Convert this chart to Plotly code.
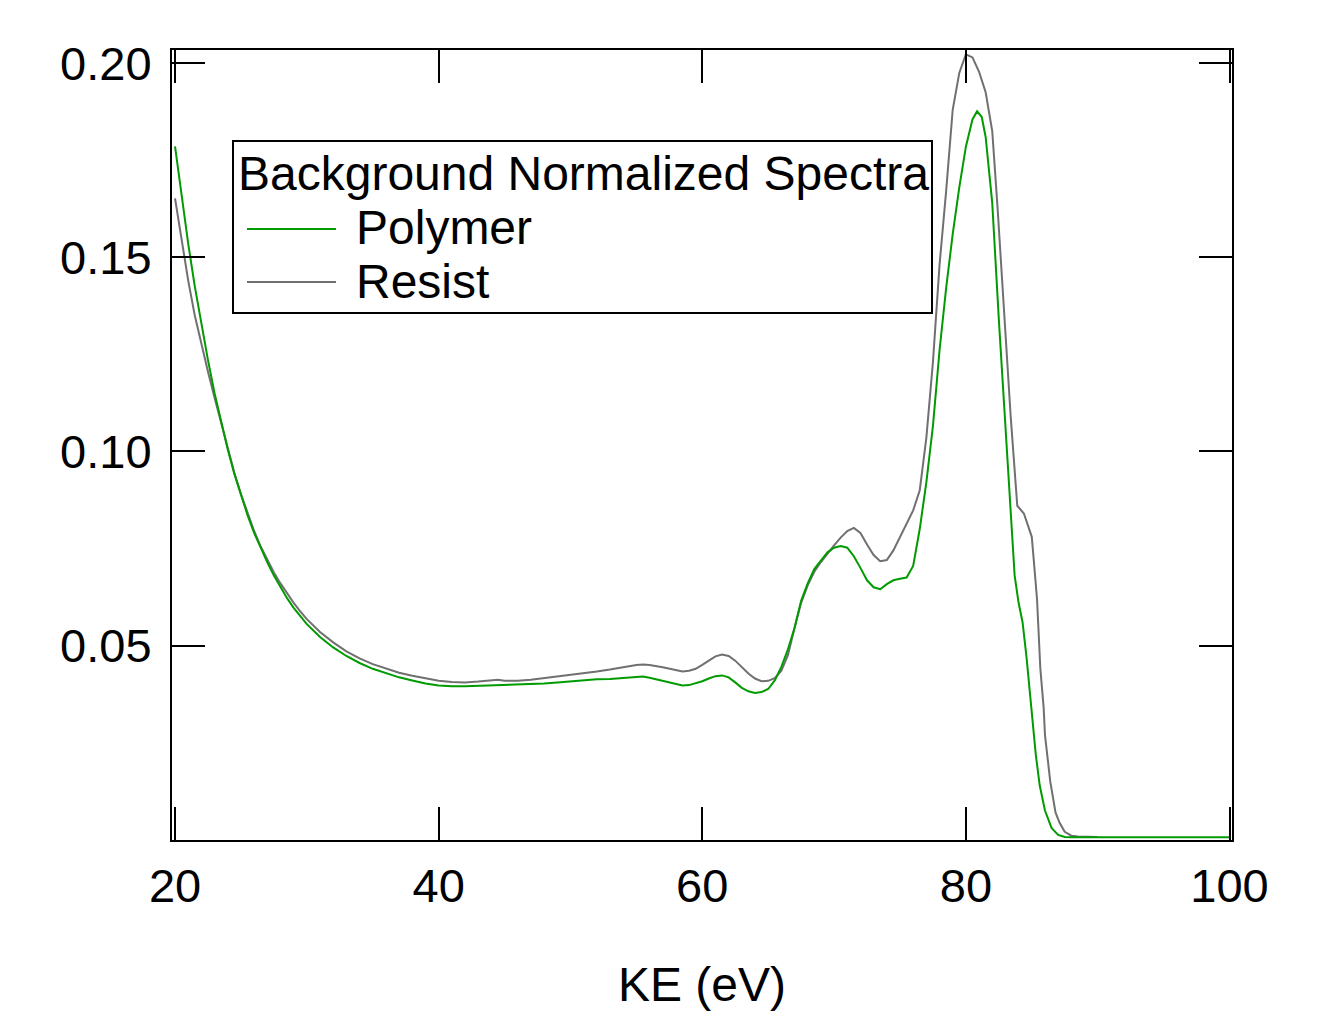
import plotly.graph_objects as go

# ---------------- data ----------------
ke_polymer = [20.0, 20.5, 21.0, 21.5, 22.0, 22.5, 23.0, 23.5, 24.0, 24.5, 25.0, 25.5, 26.0, 26.5,
              27.0, 27.5, 28.0, 28.5, 29.0, 29.5, 30.0, 31.0, 32.0, 33.0, 34.0, 35.0, 36.0, 37.0,
              38.0, 39.0, 40.0, 41.0, 42.0, 43.0, 44.0, 45.0, 46.0, 47.0, 48.0, 49.0, 50.0, 51.0,
              52.0, 53.0, 54.0, 55.0, 55.5, 56.0, 57.0, 58.0, 58.5, 59.0, 59.5, 60.0, 60.5, 61.0,
              61.5, 62.0, 62.5, 63.0, 63.5, 64.0, 64.5, 65.0, 65.5, 66.0, 66.5, 67.0, 67.5, 68.0,
              68.5, 69.0, 69.5, 70.0, 70.5, 71.0, 71.5, 72.0, 72.5, 73.0, 73.5, 74.0, 74.5, 75.0,
              75.5, 76.0, 76.5, 77.0, 77.5, 78.0, 78.5, 79.0, 79.5, 80.0, 80.5, 80.85, 81.2, 81.5,
              82.0, 82.5, 83.0, 83.4, 83.7, 84.0, 84.3, 84.6, 85.0, 85.3, 85.6, 86.0, 86.5, 87.0,
              87.5, 88.0, 90.0, 92.0, 94.0, 96.0, 98.0, 100.0]
polymer = [0.1786, 0.1660, 0.1535, 0.1425, 0.1325, 0.1235, 0.1150, 0.1075, 0.1005, 0.0942, 0.0887,
           0.0836, 0.0790, 0.0750, 0.0714, 0.0680, 0.0650, 0.0622, 0.0597, 0.0575, 0.0555, 0.0522,
           0.0495, 0.0473, 0.0455, 0.0440, 0.0428, 0.0418, 0.0410, 0.0402, 0.0397, 0.0395, 0.0395,
           0.0396, 0.0397, 0.0399, 0.0400, 0.0401, 0.0402, 0.0405, 0.0408, 0.0411, 0.0413, 0.0414,
           0.0416, 0.0419, 0.0420, 0.0417, 0.0409, 0.0400, 0.0397, 0.0398, 0.0402, 0.0408, 0.0415,
           0.0421, 0.0423, 0.0418, 0.0405, 0.0391, 0.0382, 0.0378, 0.0380, 0.0388, 0.0410, 0.0445,
           0.0490, 0.0545, 0.0615, 0.0660, 0.0697, 0.0720, 0.0740, 0.0752, 0.0756, 0.0752, 0.0730,
           0.0700, 0.0668, 0.0650, 0.0645, 0.0658, 0.0668, 0.0672, 0.0675, 0.0705, 0.0800, 0.0920,
           0.1065, 0.1260, 0.1420, 0.1560, 0.1680, 0.1785, 0.1855, 0.1876, 0.1862, 0.1810, 0.1640,
           0.1340, 0.1070, 0.0850, 0.0680, 0.0610, 0.0560, 0.0470, 0.0320, 0.0220, 0.0140, 0.0075,
           0.0030, 0.0012, 0.0007, 0.0006, 0.0006, 0.0006, 0.0006, 0.0006, 0.0006, 0.0006]

ke_resist = [20.0, 20.5, 21.0, 21.5, 22.0, 22.5, 23.0, 23.5, 24.0, 24.5, 25.0, 25.5, 26.0, 26.5,
             27.0, 27.5, 28.0, 28.5, 29.0, 29.5, 30.0, 31.0, 32.0, 33.0, 34.0, 35.0, 36.0, 37.0,
             38.0, 39.0, 40.0, 41.0, 42.0, 43.0, 44.0, 44.5, 45.0, 46.0, 47.0, 48.0, 49.0, 50.0,
             51.0, 52.0, 53.0, 54.0, 55.0, 55.5, 56.0, 57.0, 58.0, 58.5, 59.0, 59.5, 60.0, 60.5,
             61.0, 61.5, 62.0, 62.5, 63.0, 63.5, 64.0, 64.5, 65.0, 65.5, 66.0, 66.5, 67.0, 67.5,
             68.0, 68.5, 69.0, 69.5, 70.0, 70.5, 71.0, 71.5, 72.0, 72.5, 73.0, 73.5, 74.0, 74.5,
             75.0, 75.5, 76.0, 76.5, 77.0, 77.5, 78.0, 78.5, 79.0, 79.5, 80.0, 80.5, 81.0, 81.5,
             82.0, 82.4, 82.9, 83.4, 83.9, 84.4, 84.7, 85.0, 85.2, 85.4, 85.65, 85.9, 86.0, 86.4,
             86.8, 87.1, 87.5, 88.0, 88.5, 90.0]
resist = [0.1652, 0.1540, 0.1440, 0.1350, 0.1275, 0.1205, 0.1138, 0.1072, 0.1007, 0.0945, 0.0890,
          0.0840, 0.0795, 0.0755, 0.0720, 0.0688, 0.0660, 0.0634, 0.0610, 0.0588, 0.0568, 0.0535,
          0.0508, 0.0485, 0.0467, 0.0452, 0.0440, 0.0430, 0.0422, 0.0415, 0.0409, 0.0406, 0.0405,
          0.0407, 0.0410, 0.0412, 0.0409, 0.0409, 0.0412, 0.0416, 0.0420, 0.0424, 0.0428, 0.0433,
          0.0438, 0.0444, 0.0450, 0.0451, 0.0450, 0.0444, 0.0436, 0.0433, 0.0435, 0.0440, 0.0450,
          0.0462, 0.0472, 0.0477, 0.0473, 0.0461, 0.0445, 0.0428, 0.0415, 0.0408, 0.0409, 0.0416,
          0.0435, 0.0475, 0.0545, 0.0610, 0.0655, 0.0690, 0.0715, 0.0738, 0.0758, 0.0778, 0.0795,
          0.0803, 0.0790, 0.0760, 0.0733, 0.0717, 0.0720, 0.0745, 0.0780, 0.0815, 0.0848, 0.0900,
          0.1035, 0.1230, 0.1480, 0.1670, 0.1880, 0.1975, 0.2023, 0.2015, 0.1978, 0.1925, 0.1825,
          0.1630, 0.1360, 0.1090, 0.0860, 0.0840, 0.0810, 0.0780, 0.0700, 0.0618, 0.0440, 0.0340,
          0.0270, 0.0150, 0.0070, 0.0044, 0.0020, 0.0010, 0.0008, 0.0007]

x_ticks = [20, 40, 60, 80, 100]
y_ticks = [0.05, 0.10, 0.15, 0.20]
y_tick_text = ["0.05", "0.10", "0.15", "0.20"]

legend_title = "Background Normalized Spectra"
series_names = ["Polymer", "Resist"]
series_colors = ["#009B00", "#707070"]

FONT = "Liberation Sans, Arial, sans-serif"
FS_TICK = 47
FS_TEXT = 48

# ---------------- figure ----------------
fig = go.Figure()
fig.add_trace(go.Scatter(x=ke_resist, y=resist, mode="lines", name=series_names[1],
                         line=dict(color=series_colors[1], width=2), showlegend=False))
fig.add_trace(go.Scatter(x=ke_polymer, y=polymer, mode="lines", name=series_names[0],
                         line=dict(color=series_colors[0], width=2), showlegend=False))

# plot-area geometry in pixels (for placing the hand-drawn legend)
W, H = 1325, 1011
L, R, T, B = 172, 93, 50, 171
pw, ph = W - L - R, H - T - B


def px_x(p):
    return (p - L) / pw


def px_y(p):
    return (H - B - p) / ph


# legend box
fig.add_shape(type="rect", xref="paper", yref="paper",
              x0=px_x(233), x1=px_x(932), y0=px_y(313), y1=px_y(141),
              line=dict(color="black", width=2), fillcolor="white", layer="above")
fig.add_annotation(xref="paper", yref="paper", x=px_x(237), y=px_y(174),
                   text=legend_title, showarrow=False, xanchor="left", yanchor="middle",
                   font=dict(family=FONT, size=FS_TEXT, color="black"), borderpad=0)
for name, col, yc in zip(series_names, series_colors, [229, 282]):
    fig.add_shape(type="line", xref="paper", yref="paper",
                  x0=px_x(247), x1=px_x(336), y0=px_y(yc), y1=px_y(yc),
                  line=dict(color=col, width=2), layer="above")
    fig.add_annotation(xref="paper", yref="paper", x=px_x(355), y=px_y(yc - 1),
                       text=name, showarrow=False, xanchor="left", yanchor="middle",
                       font=dict(family=FONT, size=FS_TEXT, color="black"), borderpad=0)

axis_common = dict(showline=True, linecolor="black", linewidth=2, mirror="ticks",
                   ticks="inside", ticklen=33, tickwidth=2, tickcolor="black",
                   showgrid=False, zeroline=False,
                   tickfont=dict(family=FONT, size=FS_TICK, color="black"))

fig.update_xaxes(range=[19.77, 100.19], tickvals=x_ticks, ticklabelstandoff=4,
                 title=dict(text="KE (eV)", font=dict(family=FONT, size=FS_TEXT, color="black"),
                            standoff=61),
                 **axis_common)
fig.update_yaxes(range=[-0.0001, 0.2034], tickvals=y_ticks, ticktext=y_tick_text,
                 ticklabelstandoff=9, **axis_common)

fig.update_layout(width=W, height=H, margin=dict(l=L, r=R, t=T, b=B, autoexpand=False),
                  paper_bgcolor="white", plot_bgcolor="white",
                  font=dict(family=FONT, size=FS_TEXT, color="black"), showlegend=False)

fig.write_html("out.html")
